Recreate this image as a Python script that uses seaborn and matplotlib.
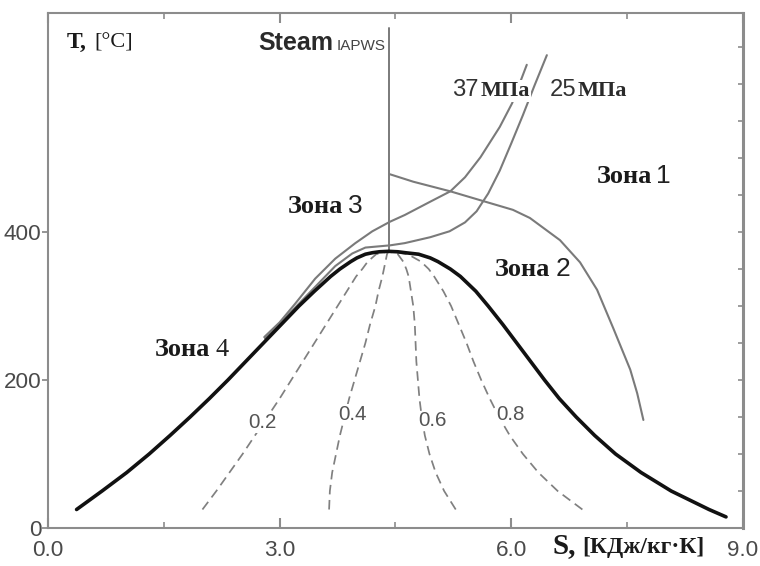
import matplotlib
matplotlib.use("Agg")
import matplotlib.pyplot as plt
import seaborn as sns
import pandas as pd
from matplotlib import font_manager
from matplotlib.ticker import FixedLocator, NullFormatter

# ---------------- data ----------------
# saturation dome, liquid branch (left) and vapour branch (right)
dome_liq_T = [25, 50, 75, 100, 125, 150, 175, 200, 225, 250, 275, 300, 320, 340, 350, 360, 365, 370, 372, 373.3, 373.9]
dome_liq_s = [0.37, 0.70, 1.02, 1.31, 1.58, 1.84, 2.09, 2.33, 2.56, 2.79, 3.02, 3.25, 3.45, 3.66, 3.78, 3.92, 4.00, 4.11, 4.20, 4.29, 4.41]
dome_vap_T = [373.3, 372, 370, 365, 360, 350, 340, 320, 300, 275, 250, 225, 200, 175, 150, 125, 100, 75, 50, 25, 15]
dome_vap_s = [4.53, 4.63, 4.80, 4.95, 5.05, 5.21, 5.34, 5.54, 5.70, 5.89, 6.07, 6.25, 6.43, 6.62, 6.84, 7.08, 7.35, 7.68, 8.07, 8.56, 8.78]

# lines of constant dryness (dashed)
quality_T = [25, 50, 75, 100, 125, 150, 175, 200, 225, 250, 275, 300, 320, 340, 350, 360, 370, 373.9]
quality_02_s = [2.00, 2.18, 2.35, 2.52, 2.68, 2.84, 3.00, 3.15, 3.30, 3.45, 3.60, 3.75, 3.87, 3.99, 4.07, 4.14, 4.25, 4.41]
quality_04_s = [3.64, 3.65, 3.68, 3.73, 3.78, 3.84, 3.90, 3.97, 4.04, 4.11, 4.17, 4.24, 4.28, 4.33, 4.35, 4.37, 4.39, 4.41]
quality_06_s = [5.28, 5.13, 5.02, 4.94, 4.88, 4.84, 4.81, 4.79, 4.77, 4.76, 4.75, 4.73, 4.70, 4.67, 4.64, 4.60, 4.53, 4.41]
quality_08_s = [6.92, 6.60, 6.35, 6.15, 5.98, 5.84, 5.72, 5.61, 5.51, 5.42, 5.32, 5.22, 5.12, 5.00, 4.93, 4.83, 4.66, 4.41]
quality_labels = ["0.2", "0.4", "0.6", "0.8"]

# isobars
p25_s = [2.81, 3.00, 3.22, 3.47, 3.72, 3.94, 4.11, 4.43, 4.62, 4.95, 5.20, 5.40, 5.55, 5.70, 5.85, 6.00, 6.15, 6.30, 6.46]
p25_T = [256, 276, 300, 327, 354, 371, 379, 382, 385, 393, 401, 413, 428, 452, 483, 520, 558, 598, 639]
p37_s = [2.80, 3.00, 3.20, 3.46, 3.72, 3.98, 4.20, 4.43, 4.62, 4.95, 5.21, 5.40, 5.60, 5.85, 6.01, 6.20]
p37_T = [258, 278, 303, 337, 364, 385, 401, 414, 423, 441, 455, 474, 501, 542, 574, 626]

# descending line in the superheated region
h_line_s = [4.43, 4.73, 5.21, 5.63, 6.02, 6.24, 6.63, 6.89, 7.11, 7.32, 7.54, 7.63, 7.71]
h_line_T = [478, 468, 455, 442, 430, 419, 389, 359, 322, 270, 214, 182, 146]

# vertical marker line
steam_line_s = [4.42, 4.42]
steam_line_T = [374, 676]

# axes
x_major = [0, 3, 6, 9]
x_major_labels = ["0.0", "3.0", "6.0", "9.0"]
x_minor = [1.5, 4.5, 7.5]
y_major = [0, 200, 400]
y_major_labels = ["0", "200", "400"]
y_right = [50, 100, 150, 200, 250, 300, 350, 400, 450, 500, 550, 600, 650]

# ---------------- style ----------------
sns.set_style("white")
avail = {f.name for f in font_manager.fontManager.ttflist}
NARROW = "Liberation Sans Narrow" if "Liberation Sans Narrow" in avail else "Liberation Sans"
nscale = 1.0 if NARROW == "Liberation Sans Narrow" else 0.9
SERIF = ["Liberation Serif", "DejaVu Serif"]
SANS = ["Liberation Sans", "DejaVu Sans"]
NFAM = [NARROW, "DejaVu Sans"]
plt.rcParams["font.family"] = SANS

GRAY = "#7a7a7a"
SPINE = "#8c8c8c"
TXT = "#1a1a1a"

fig = plt.figure(figsize=(7.6, 5.66), dpi=100)
ax = fig.add_axes([48 / 760, 38 / 566, 695 / 760, 515 / 566])

def line(s, T, **kw):
    df = pd.DataFrame({"s": s, "T": T})
    sns.lineplot(data=df, x="s", y="T", sort=False, estimator=None,
                 errorbar=None, ax=ax, legend=False, **kw)

dash = (0, (5.5, 3.2))
for qs in [quality_02_s, quality_04_s, quality_06_s, quality_08_s]:
    line(qs, quality_T, color="#808080", linewidth=1.25, linestyle=dash)

line(steam_line_s, steam_line_T, color=GRAY, linewidth=1.4)
line(h_line_s, h_line_T, color=GRAY, linewidth=1.5)
line(p25_s, p25_T, color=GRAY, linewidth=1.5)
line(p37_s, p37_T, color=GRAY, linewidth=1.5)
line(dome_liq_s + dome_vap_s, dome_liq_T + dome_vap_T, color="#111111",
     linewidth=2.6, zorder=2.5)

ax.set_xlim(0, 9)
ax.set_ylim(0, 696)
ax.set_xlabel("")
ax.set_ylabel("")

# x ticks (inward, top and bottom)
ax.xaxis.set_major_locator(FixedLocator(x_major))
ax.set_xticklabels(x_major_labels)
ax.xaxis.set_minor_locator(FixedLocator(x_minor))
ax.xaxis.set_minor_formatter(NullFormatter())
ax.tick_params(axis="x", which="major", direction="in", top=True, bottom=True,
               length=7, width=1.5, color=SPINE, pad=9,
               labelsize=18 * nscale, labelcolor="#4a4a4a")
ax.tick_params(axis="x", which="minor", direction="in", top=True, bottom=True,
               length=4.5, width=1.2, color=SPINE)
for lab in ax.get_xticklabels():
    lab.set_fontfamily(NFAM)

# y ticks: left outward labelled, right inward every 50
ax.set_yticks(y_major)
ax.set_yticklabels(y_major_labels)
ax.tick_params(axis="y", which="major", direction="out", left=True, right=False,
               length=4, width=1.3, color=SPINE, pad=0.5,
               labelsize=18 * nscale, labelcolor="#4a4a4a")
for lab in ax.get_yticklabels():
    lab.set_fontfamily(NFAM)

ax2 = ax.twinx()
ax2.set_ylim(ax.get_ylim())
ax2.set_yticks(y_right)
ax2.tick_params(axis="y", direction="in", length=3.5, width=1.2, color=SPINE,
                labelright=False)
for sp in ax2.spines.values():
    sp.set_visible(False)

for name, sp in ax.spines.items():
    sp.set_color(SPINE)
    sp.set_linewidth(2.2 if name == "right" else 1.5)

# ---------------- texts ----------------
def put(s, T, txt, **kw):
    kw.setdefault("color", TXT)
    return ax.text(s, T, txt, ha="left", va="baseline", clip_on=False, **kw)

# axis titles
put(0.246, 649, "T,", fontsize=17, fontweight="bold", family=SERIF)
put(0.60, 650, "[°C]", fontsize=16, family=SERIF)
put(6.527, -34, "S,", fontsize=21, fontweight="bold", family=SERIF)
put(6.915, -34, "[КДж/кг·К]", fontsize=17, fontweight="bold", family=SERIF)

# Steam IAPWS
put(2.72, 646, "Steam", fontsize=18, fontweight="bold", family=SANS, color="#2a2a2a")
put(3.74, 646, "IAPWS", fontsize=11 if nscale < 1 else 12,
    family=NFAM, color="#444444")

# pressure labels
put(5.232, 584, "37", fontsize=19 * nscale, family=NFAM, color="#333333")
put(5.60, 584, "МПа", fontsize=16, fontweight="bold", family=SERIF, color="#2a2a2a",
    bbox=dict(facecolor="white", edgecolor="none", pad=1.0))
put(6.501, 584, "25", fontsize=19 * nscale, family=NFAM, color="#333333")
put(6.86, 584, "МПа", fontsize=16, fontweight="bold", family=SERIF, color="#2a2a2a")

# zones: word in bold serif, digit placed just after it
zones = [((3.108, 426), "3", SANS, 5),
         ((5.789, 341), "2", SANS, 5),
         ((7.11, 466), "1", SANS, 4),
         ((1.386, 232), "4", SERIF, 5)]
for (zs, zT), d, fam, gap in zones:
    word = put(zs, zT, "Зона", fontsize=19, fontweight="bold", family=SERIF)
    ax.annotate(d, xy=(1, 0), xycoords=word, xytext=(gap, 0),
                textcoords="offset pixels", ha="left", va="bottom",
                fontsize=19, family=fam, color="#222222")

# quality labels
q_pos = [(2.771, 142), (3.937, 154), (4.973, 145), (5.983, 153)]
for (qs, qT), lab in zip(q_pos, quality_labels):
    ax.text(qs, qT, lab, ha="center", va="center", fontsize=16.5 * nscale,
            family=NFAM, color="#555555",
            bbox=dict(facecolor="white", edgecolor="none", pad=0.5), zorder=4)

fig.savefig("out.png", dpi=100, facecolor="white")
